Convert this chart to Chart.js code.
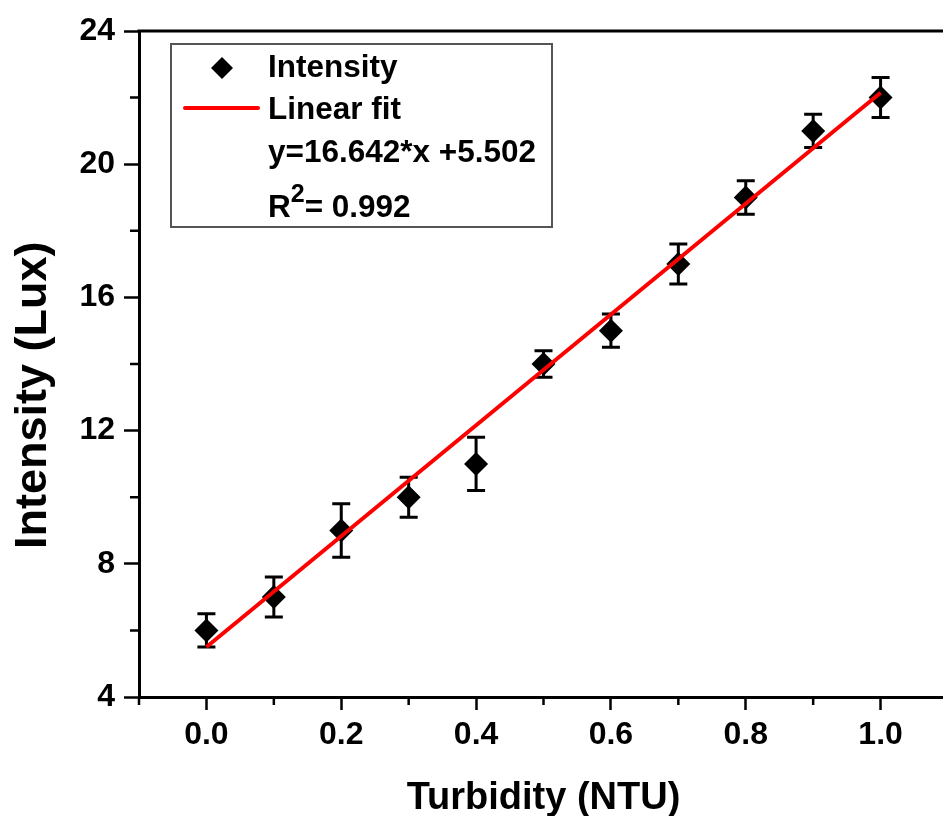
<!DOCTYPE html>
<html>
<head>
<meta charset="utf-8">
<script src="https://cdn.jsdelivr.net/npm/chart.js@4.4.0/dist/chart.umd.min.js"></script>
<style>
    html, body { margin: 0; padding: 0; background: #fff; overflow: hidden; }
    #wrap { width: 960px; height: 816px; }
</style>
</head>
<body>
<div id="wrap"><canvas id="chart" width="960" height="816"></canvas></div>
<script>
// 数据
const turbidity = [0.0, 0.1, 0.2, 0.3, 0.4, 0.5, 0.6, 0.7, 0.8, 0.9, 1.0];
const intensity = [6, 7, 9, 10, 11, 14, 15, 17, 19, 21, 22];
const intensityErr = [0.5, 0.6, 0.8, 0.6, 0.8, 0.4, 0.5, 0.6, 0.5, 0.5, 0.6];
const fitSlope = 16.642;
const fitIntercept = 5.502;
const fitR2 = 0.992;
const fitRange = [0.0, 1.0];

const FONT = "'Liberation Sans', Arial, sans-serif";

// 误差棒
const errorBars = {
    id: 'errorBars',
    beforeDatasetsDraw(chart) {
        const ctx = chart.ctx;
        const xs = chart.scales.x, ys = chart.scales.y;
        ctx.save();
        ctx.strokeStyle = '#000';
        ctx.lineWidth = 3;
        turbidity.forEach((t, i) => {
            const px = xs.getPixelForValue(t);
            const top = ys.getPixelForValue(intensity[i] + intensityErr[i]);
            const bot = ys.getPixelForValue(intensity[i] - intensityErr[i]);
            ctx.beginPath();
            ctx.moveTo(px, top); ctx.lineTo(px, bot);
            ctx.moveTo(px - 9, top); ctx.lineTo(px + 9, top);
            ctx.moveTo(px - 9, bot); ctx.lineTo(px + 9, bot);
            ctx.stroke();
        });
        ctx.restore();
    }
};

// 边框和次刻度
const frame = {
    id: 'frame',
    afterDraw(chart) {
        const ctx = chart.ctx;
        const a = chart.chartArea;
        const xs = chart.scales.x, ys = chart.scales.y;
        ctx.save();
        ctx.strokeStyle = '#000';
        ctx.lineWidth = 3;
        ctx.beginPath();
        ctx.moveTo(a.left - 1.5, a.top);
        ctx.lineTo(a.right, a.top);
        ctx.lineTo(a.right, a.bottom);
        ctx.stroke();
        ctx.lineWidth = 2.5;
        ctx.beginPath();
        xs.ticks.forEach(t => {
            if (Math.round(t.value * 10) % 2 !== 0) {
                const px = xs.getPixelForValue(t.value);
                ctx.moveTo(px, a.bottom); ctx.lineTo(px, a.bottom + 8);
            }
        });
        ys.ticks.forEach(t => {
            if (Math.round(t.value) % 4 !== 0) {
                const py = ys.getPixelForValue(t.value);
                ctx.moveTo(a.left, py); ctx.lineTo(a.left - 9, py);
            }
        });
        ctx.stroke();
        ctx.restore();
    }
};

// 图例
const legendBox = {
    id: 'legendBox',
    afterDraw(chart) {
        const ctx = chart.ctx;
        ctx.save();
        ctx.fillStyle = '#fff';
        ctx.fillRect(171, 44, 381, 183);
        ctx.strokeStyle = '#555';
        ctx.lineWidth = 2;
        ctx.strokeRect(171, 44, 381, 183);

        // 菱形
        ctx.fillStyle = '#000';
        ctx.beginPath();
        ctx.moveTo(222, 57); ctx.lineTo(233, 68); ctx.lineTo(222, 79); ctx.lineTo(211, 68);
        ctx.closePath();
        ctx.fill();

        // 红线
        ctx.strokeStyle = '#ff0000';
        ctx.lineWidth = 4;
        ctx.lineCap = 'round';
        ctx.beginPath();
        ctx.moveTo(185, 108); ctx.lineTo(258, 108);
        ctx.stroke();

        ctx.fillStyle = '#000';
        ctx.textBaseline = 'alphabetic';
        ctx.font = 'bold 31.5px ' + FONT;
        ctx.fillText('Intensity', 268, 77);
        ctx.fillText('Linear fit', 268, 119);
        ctx.fillText('y=' + fitSlope.toFixed(3) + '*x +' + fitIntercept.toFixed(3), 268, 162);
        ctx.fillText('R', 268, 217);
        const rw = ctx.measureText('R').width;
        ctx.font = 'bold 25px ' + FONT;
        ctx.fillText('2', 268 + rw, 202);
        const sw = ctx.measureText('2').width;
        ctx.font = 'bold 31.5px ' + FONT;
        ctx.fillText('= ' + fitR2.toFixed(3), 268 + rw + sw, 217);
        ctx.restore();
    }
};

const points = turbidity.map((t, i) => ({ x: t, y: intensity[i] }));
const fitLine = fitRange.map(t => ({ x: t, y: fitSlope * t + fitIntercept }));

new Chart(document.getElementById('chart'), {
    type: 'scatter',
    data: {
        datasets: [
            {
                label: 'Intensity',
                data: points,
                pointStyle: 'rectRot',
                pointRadius: 12,
                pointHoverRadius: 12,
                backgroundColor: '#000',
                borderColor: '#000',
                borderWidth: 0,
                order: 2
            },
            {
                label: 'Linear fit',
                type: 'line',
                data: fitLine,
                borderColor: '#ff0000',
                borderWidth: 4,
                pointRadius: 0,
                fill: false,
                order: 1
            }
        ]
    },
    options: {
        responsive: false,
        animation: false,
        events: [],
        layout: { padding: { top: 31, right: 9, left: 0, bottom: 0 } },
        plugins: {
            legend: { display: false },
            tooltip: { enabled: false }
        },
        scales: {
            x: {
                type: 'linear',
                min: -0.1,
                max: 1.1,
                afterFit: s => { s.height = 119; },
                afterBuildTicks: s => {
                    const ticks = [];
                    for (let i = -1; i <= 11; i++) ticks.push({ value: i / 10 });
                    s.ticks = ticks;
                },
                border: { display: true, color: '#000', width: 3 },
                grid: {
                    drawOnChartArea: false,
                    drawTicks: true,
                    tickLength: 13,
                    tickWidth: 2.5,
                    tickColor: c => (c.tick && Math.round(c.tick.value * 10) % 2 === 0) ? '#000' : 'rgba(0,0,0,0)'
                },
                ticks: {
                    autoSkip: false,
                    maxRotation: 0,
                    padding: 6,
                    color: '#000',
                    font: { family: FONT, size: 32, weight: 'bold' },
                    callback: v => {
                        const k = Math.round(v * 10);
                        return (k % 2 === 0 && k >= 0 && k <= 10) ? (k / 10).toFixed(1) : '';
                    }
                },
                title: {
                    display: true,
                    text: 'Turbidity (NTU)',
                    color: '#000',
                    font: { family: FONT, size: 38, weight: 'bold', lineHeight: 1 },
                    padding: { top: 0, bottom: -2 }
                }
            },
            y: {
                type: 'linear',
                min: 4,
                max: 24,
                afterFit: s => { s.width = 139; },
                border: { display: true, color: '#000', width: 3 },
                grid: {
                    drawOnChartArea: false,
                    drawTicks: true,
                    tickLength: 15,
                    tickWidth: 2.5,
                    tickColor: c => (c.tick && Math.round(c.tick.value) % 4 === 0) ? '#000' : 'rgba(0,0,0,0)'
                },
                ticks: {
                    stepSize: 2,
                    autoSkip: false,
                    padding: 9,
                    color: '#000',
                    font: { family: FONT, size: 32, weight: 'bold' },
                    callback: v => (Math.round(v) % 4 === 0) ? String(v) : ''
                },
                title: {
                    display: true,
                    // 末尾空格让标题略向下偏移，与原图一致
                    text: 'Intensity (Lux)     ',
                    color: '#000',
                    font: { family: FONT, size: 45, weight: 'bold', lineHeight: 1 },
                    padding: { top: 11, bottom: 0 }
                }
            }
        }
    },
    plugins: [errorBars, frame, legendBox]
});
</script>
</body>
</html>
